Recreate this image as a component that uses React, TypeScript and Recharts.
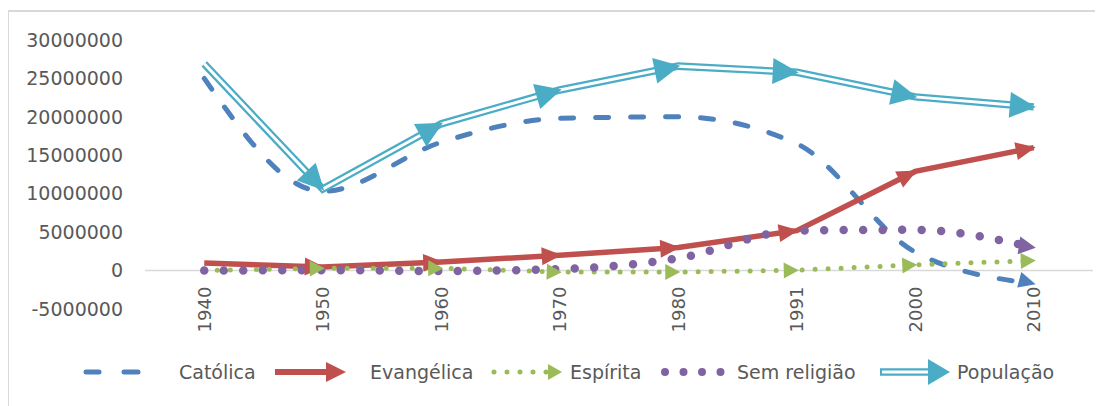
import { LineChart, Line, XAxis, YAxis, ReferenceLine } from "recharts";

const YEARS = ["1940", "1950", "1960", "1970", "1980", "1991", "2000", "2010"];
const CATOLICA = [25000000, 10300000, 16700000, 19800000, 20000000, 16500000, 2400000, -1700000];
const EVANGELICA = [1000000, 450000, 1100000, 2000000, 3000000, 5200000, 12900000, 16000000];
const ESPIRITA = [0, 300000, 300000, -200000, -200000, 50000, 750000, 1300000];
const SEM_RELIGIAO = [0, 50000, -50000, 200000, 1600000, 5200000, 5300000, 3000000];
const POPULACAO = [26900000, 10600000, 19100000, 23500000, 26600000, 25800000, 22600000, 21300000];
const Y_TICKS = [-5000000, 0, 5000000, 10000000, 15000000, 20000000, 25000000, 30000000];

const W = 1095;
const H = 398;
const MARGIN = { top: 32, right: 10, left: 10, bottom: 57 };
const Y_AXIS_W = 127;
const X_AXIS_H = 40;
const PLOT_W = W - MARGIN.left - MARGIN.right - Y_AXIS_W;
const PLOT_H = H - MARGIN.top - MARGIN.bottom - X_AXIS_H;
const BAND = PLOT_W / YEARS.length;
const Y_MIN = -5000000;
const Y_MAX = 30000000;

const FONT = "'DejaVu Sans', sans-serif";
const TEXT = "#595959";
const BLUE = "#4f81bd";
const RED = "#c0504d";
const GREEN = "#9bbb59";
const PURPLE = "#8064a2";
const TEAL = "#4bacc6";

const data = YEARS.map((year, i) => ({
  year,
  catolica: CATOLICA[i],
  evangelica: EVANGELICA[i],
  espirita: ESPIRITA[i],
  semReligiao: SEM_RELIGIAO[i],
  populacao: POPULACAO[i],
}));

// arrow head at the end of each segment (or only at the last point for smoothed lines)
function arrowDot(color: string, len: number, half: number, series: number[], lastOnly: boolean) {
  return (props: any) => {
    const { cx, cy, index } = props;
    const k = `${color}-${index}`;
    if (cx == null || cy == null || index === 0 || (lastOnly && index !== series.length - 1)) {
      return <g key={k} />;
    }
    let dx: number;
    let dy: number;
    const pts = props.points;
    if (pts && pts[index - 1]) {
      dx = cx - pts[index - 1].x;
      dy = cy - pts[index - 1].y;
    } else {
      dx = BAND;
      dy = (-(series[index] - series[index - 1]) * PLOT_H) / (Y_MAX - Y_MIN);
    }
    const l = Math.hypot(dx, dy) || 1;
    const ux = dx / l;
    const uy = dy / l;
    const tx = cx + ux * 2;
    const ty = cy + uy * 2;
    const bx = tx - ux * len;
    const by = ty - uy * len;
    return (
      <polygon
        key={k}
        points={`${tx},${ty} ${bx - uy * half},${by + ux * half} ${bx + uy * half},${by - ux * half}`}
        fill={color}
      />
    );
  };
}

const XTick = (props: any) => {
  const { x, y, payload } = props;
  const zeroY = y - (PLOT_H * (0 - Y_MIN)) / (Y_MAX - Y_MIN);
  const top = zeroY + 16;
  return (
    <text
      x={x}
      y={top}
      transform={`rotate(-90, ${x}, ${top})`}
      textAnchor="end"
      dominantBaseline="central"
      fill={TEXT}
      fontSize={18}
      fontFamily={FONT}
    >
      {payload.value}
    </text>
  );
};

function LegendRow() {
  const cy = 364;
  const label = (x: number, text: string) => (
    <text x={x} y={cy} dominantBaseline="central" fill={TEXT} fontSize={19} fontFamily={FONT}>
      {text}
    </text>
  );
  return (
    <svg width={W} height={H} style={{ position: "absolute", left: 0, top: 0 }}>
      <line x1={78} y1={cy} x2={91} y2={cy} stroke={BLUE} strokeWidth={5} strokeLinecap="round" />
      <line x1={116} y1={cy} x2={130} y2={cy} stroke={BLUE} strokeWidth={5} strokeLinecap="round" />
      {label(171, "Católica")}
      <line x1={267} y1={cy} x2={320} y2={cy} stroke={RED} strokeWidth={6} />
      <polygon points={`${338},${cy} ${318},${cy - 10} ${318},${cy + 10}`} fill={RED} />
      {label(362, "Evangélica")}
      <line x1={486} y1={cy} x2={540} y2={cy} stroke={GREEN} strokeWidth={5} strokeDasharray="0 13" strokeLinecap="round" />
      <polygon points={`${554},${cy} ${540},${cy - 8} ${540},${cy + 8}`} fill={GREEN} />
      {label(562, "Espírita")}
      <line x1={657} y1={cy} x2={715} y2={cy} stroke={PURPLE} strokeWidth={8} strokeDasharray="0 18.5" strokeLinecap="round" />
      {label(729, "Sem religião")}
      <line x1={872} y1={cy} x2={924} y2={cy} stroke={TEAL} strokeWidth={7.5} />
      <line x1={874} y1={cy} x2={924} y2={cy} stroke="#ffffff" strokeWidth={3} />
      <polygon points={`${942},${cy} ${920},${cy - 13} ${920},${cy + 13}`} fill={TEAL} />
      {label(949, "População")}
    </svg>
  );
}

export default function App() {
  return (
    <div style={{ position: "relative", width: W, height: H }}>
      <div
        style={{
          position: "absolute",
          left: -1,
          top: 2,
          width: W,
          height: H - 2,
          borderLeft: "2px solid #d9d9d9",
          borderTop: "2px solid #d9d9d9",
        }}
      />
      <div style={{ position: "absolute", left: 0, top: 0 }}>
        <LineChart width={W} height={H} data={data} margin={MARGIN} style={{ fontFamily: FONT }}>
          <XAxis
            dataKey="year"
            height={X_AXIS_H}
            axisLine={false}
            tickLine={false}
            tickSize={0}
            tickMargin={0}
            padding={{ left: BAND / 2, right: BAND / 2 }}
            interval={0}
            tick={<XTick />}
          />
          <YAxis
            width={Y_AXIS_W}
            domain={[Y_MIN, Y_MAX]}
            ticks={Y_TICKS}
            interval={0}
            axisLine={false}
            tickLine={false}
            tickSize={0}
            tickMargin={22}
            tick={{ fill: TEXT, fontSize: 19, fontFamily: FONT }}
          />
          <ReferenceLine y={0} stroke="#d9d9d9" strokeWidth={1.5} />
          <Line
            type="monotone"
            dataKey="catolica"
            stroke={BLUE}
            strokeWidth={5}
            strokeDasharray="13 22"
            strokeLinecap="round"
            dot={arrowDot(BLUE, 17, 8, CATOLICA, true)}
            activeDot={false}
            isAnimationActive={false}
          />
          <Line
            type="linear"
            dataKey="evangelica"
            stroke={RED}
            strokeWidth={5.5}
            dot={arrowDot(RED, 20, 9, EVANGELICA, false)}
            activeDot={false}
            isAnimationActive={false}
          />
          <Line
            type="linear"
            dataKey="espirita"
            stroke={GREEN}
            strokeWidth={5}
            strokeDasharray="0 13"
            strokeLinecap="round"
            dot={arrowDot(GREEN, 15, 8, ESPIRITA, false)}
            activeDot={false}
            isAnimationActive={false}
          />
          <Line
            type="monotone"
            dataKey="semReligiao"
            stroke={PURPLE}
            strokeWidth={8.5}
            strokeDasharray="0 19.5"
            strokeLinecap="round"
            dot={arrowDot(PURPLE, 17, 9, SEM_RELIGIAO, true)}
            activeDot={false}
            isAnimationActive={false}
          />
          <Line
            type="linear"
            dataKey="populacao"
            stroke={TEAL}
            strokeWidth={7.5}
            dot={false}
            activeDot={false}
            isAnimationActive={false}
          />
          <Line
            type="linear"
            dataKey="populacao"
            stroke="#ffffff"
            strokeWidth={3}
            dot={arrowDot(TEAL, 26, 13, POPULACAO, false)}
            activeDot={false}
            isAnimationActive={false}
          />
        </LineChart>
      </div>
      <LegendRow />
    </div>
  );
}
